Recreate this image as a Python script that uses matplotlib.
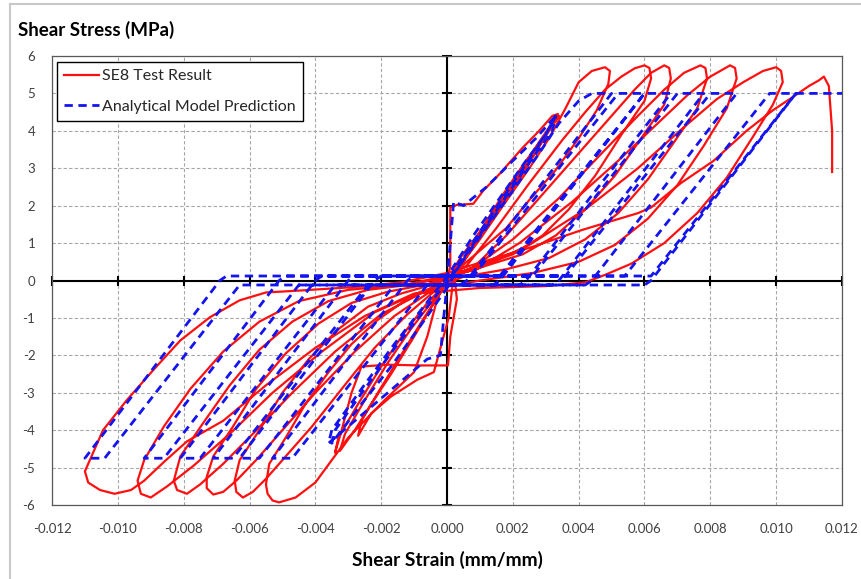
import numpy as np
import matplotlib
matplotlib.use('Agg')
import matplotlib.pyplot as plt
from matplotlib.lines import Line2D

plt.rcParams['font.family'] = ['Lato', 'DejaVu Sans']
plt.rcParams['axes.unicode_minus'] = False

# --- SE8 test result (red), branch by branch ---
# first small cycles around +/-0.0033
test_small_x = [0, 0.0001, 0.0001, 0.0003, 0.0008, 0.0011, 0.0016, 0.0023, 0.0028, 0.0032, 0.00337,
                0.0030, 0.0024, 0.0017, 0.0010, 0.0004, 0.0002, 0.0003, 0.0001, 0.00003, -0.0008, -0.0018, -0.0026, -0.0029, -0.0032, -0.0034,
                -0.0033, -0.0027, -0.0020, -0.0013, -0.0006, 0.0, 0.0005, 0.0010, 0.0017, 0.0024, 0.0030, 0.0034,
                0.0031, 0.0024, 0.0016, 0.0008, 0.0002, -0.0004, -0.0010, -0.0017, -0.0023, -0.0028, -0.00325,
                -0.0031, -0.0025, -0.0018, -0.0011, -0.0004, 0.0002, 0.0008, 0.0015, 0.0022, 0.0028, 0.0033,
                0.0030, 0.0023, 0.0015, 0.0007, 0.0002, 0.00005, -0.0004, -0.0009, -0.0017, -0.0023, -0.0027]
test_small_y = [0, 0.4, 1.95, 2.02, 2.05, 2.4, 2.85, 3.55, 4.0, 4.4, 4.45,
                3.9, 3.1, 2.2, 1.3, 0.6, 0.3, -0.5, -1.5, -2.27, -2.27, -2.25, -2.3, -3.0, -4.0, -4.6,
                -4.2, -3.3, -2.3, -1.4, -0.6, -0.05, 0.5, 1.3, 2.3, 3.2, 3.9, 4.4,
                4.0, 3.0, 1.9, 0.9, 0.25, -0.6, -1.5, -2.5, -3.3, -4.0, -4.55,
                -4.1, -3.2, -2.2, -1.3, -0.5, 0.1, 0.9, 1.9, 2.9, 3.7, 4.35,
                3.9, 2.9, 1.8, 0.8, 0.1, -1.0, -2.45, -2.65, -3.1, -3.55, -4.15]

# large cycles
test_big_x = [-0.0026, -0.0021, -0.0014, -0.0007, -0.0001, 0.0004, 0.0010, 0.0017, 0.0025, 0.0031, 0.0036, 0.0040, 0.0044, 0.0048,
              0.00495, 0.0049, 0.00455, 0.0040, 0.0033, 0.0025, 0.0018, 0.0010, 0.0004, 0.0, -0.0003, -0.0006, -0.0010, -0.0019, -0.0030, -0.0035, -0.0040, -0.0046, -0.0051, -0.0053, -0.00545, -0.0055,
              -0.0054, -0.0049, -0.0043, -0.0036, -0.0029, -0.0021, -0.0013, -0.0005, 0.0006, 0.0015, 0.0025, 0.0035, 0.0042, 0.0048, 0.0053, 0.0057, 0.0060,
              0.00615, 0.0062, 0.0060, 0.0053, 0.0045, 0.0037, 0.0029, 0.0020, 0.0010, 0.0003, -0.0004, -0.0012, -0.0022, -0.0032, -0.0041, -0.0049, -0.0055, -0.0059, -0.0062, -0.0064, -0.00645,
              -0.0063, -0.0057, -0.0050, -0.0042, -0.0033, -0.0024, -0.0014, -0.0004, 0.0008, 0.0018, 0.0030, 0.0042, 0.0051, 0.0057, 0.0062, 0.0066,
              0.00675, 0.0068, 0.0066, 0.0059, 0.0051, 0.0042, 0.0033, 0.0023, 0.0012, 0.0003, -0.0006, -0.0016, -0.0028, -0.0040, -0.0050, -0.0058, -0.0064, -0.0068, -0.0071, -0.0073, -0.0073,
              -0.0071, -0.0065, -0.0058, -0.0049, -0.0039, -0.0029, -0.0018, -0.0006, 0.0008, 0.0020, 0.0034, 0.0047, 0.0058, 0.0066, 0.0072, 0.0077,
              0.00785, 0.0079, 0.0076, 0.0069, 0.0061, 0.0052, 0.0042, 0.0031, 0.0018, 0.0005, -0.0008, -0.0020, -0.0034, -0.0047, -0.0059, -0.0068, -0.0075, -0.0079, -0.0082, -0.0083,
              -0.0081, -0.0074, -0.0066, -0.0057, -0.0047, -0.0036, -0.0024, -0.0010, 0.0009, 0.0022, 0.0038, 0.0052, 0.0064, 0.0073, 0.0080, 0.0086,
              0.00875, 0.0088, 0.0085, 0.0078, 0.0070, 0.0061, 0.0051, 0.0040, 0.0026, 0.0010, -0.0008, -0.0022, -0.0038, -0.0053, -0.0066, -0.0077, -0.0085, -0.0090, -0.0093, -0.0094,
              -0.0092, -0.0086, -0.0078, -0.0068, -0.0057, -0.0045, -0.0030, -0.0012, 0.0009, 0.0025, 0.0042, 0.0058, 0.0072, 0.0082, 0.0090, 0.0096, 0.0100,
              0.01015, 0.0102, 0.0099, 0.0093, 0.0085, 0.0076, 0.0066, 0.0056, 0.0048, 0.0042, 0.0030, 0.0010, -0.0010, -0.0025, -0.0040, -0.0055, -0.0068, -0.0079, -0.0086, -0.0092, -0.0096, -0.0101, -0.01054, -0.0109, -0.0110]
test_big_y = [-3.75, -3.0, -2.0, -1.0, -0.2, 0.4, 1.1, 2.0, 3.0, 3.8, 4.6, 5.3, 5.6, 5.7,
              5.6, 5.25, 4.55, 3.8, 2.95, 2.15, 1.4, 0.8, 0.35, 0.05, -0.5, -1.5, -2.45, -3.2, -4.2, -4.8, -5.4, -5.8, -5.93, -5.88, -5.7, -5.45,
              -4.9, -4.2, -3.3, -2.45, -1.7, -1.05, -0.55, -0.2, 0.4, 1.4, 2.6, 3.75, 4.5, 5.1, 5.45, 5.67, 5.75,
              5.68, 5.4, 4.8, 3.9, 2.8, 1.9, 1.2, 0.7, 0.4, 0.2, -0.3, -0.9, -1.8, -2.9, -3.9, -4.7, -5.3, -5.65, -5.8, -5.65, -5.35,
              -4.8, -4.0, -3.0, -2.1, -1.3, -0.7, -0.35, -0.1, 0.35, 1.2, 2.4, 3.6, 4.5, 5.1, 5.55, 5.75,
              5.68, 5.4, 4.7, 3.8, 2.8, 1.9, 1.2, 0.7, 0.4, 0.15, -0.35, -0.95, -1.9, -3.0, -4.0, -4.8, -5.35, -5.65, -5.72, -5.55, -5.25,
              -4.7, -3.9, -2.9, -1.95, -1.15, -0.6, -0.3, -0.1, 0.35, 1.1, 2.2, 3.4, 4.4, 5.1, 5.55, 5.75,
              5.68, 5.4, 4.6, 3.7, 2.7, 1.8, 1.1, 0.6, 0.3, 0.1, -0.35, -0.9, -1.9, -3.0, -4.1, -4.9, -5.45, -5.7, -5.6, -5.35,
              -4.7, -3.8, -2.8, -1.85, -1.1, -0.55, -0.25, -0.1, 0.3, 1.0, 2.1, 3.2, 4.2, 4.95, 5.45, 5.75,
              5.68, 5.4, 4.6, 3.6, 2.55, 1.65, 0.95, 0.5, 0.2, 0.0, -0.3, -0.85, -1.9, -3.0, -4.1, -4.95, -5.5, -5.8, -5.7, -5.35,
              -4.8, -3.9, -2.9, -1.9, -1.1, -0.55, -0.25, -0.1, 0.3, 0.95, 1.9, 3.0, 4.1, 4.85, 5.3, 5.6, 5.7,
              5.6, 5.3, 4.7, 3.85, 2.75, 1.8, 1.0, 0.45, 0.15, -0.05, -0.15, -0.2, -0.35, -0.95, -1.8, -2.8, -3.75, -4.3, -4.85, -5.35, -5.6, -5.7, -5.6, -5.4, -5.1]

# last unloading and final push to failure
test_final_x = [-0.01045, -0.00973, -0.00893, -0.0081, -0.0072, -0.0063, -0.0055, -0.0045, -0.0029, -0.0014, 0.0,
                0.0009, 0.0026, 0.0041, 0.0058, 0.0062, 0.0071, 0.0081, 0.0091, 0.0099, 0.0105, 0.0110, 0.0113, 0.01145, 0.0116, 0.0117, 0.0117]
test_final_y = [-4.0, -3.2, -2.4, -1.6, -0.98, -0.53, -0.32, -0.27, -0.18, -0.05, 0.2,
                0.45, 0.9, 1.35, 1.8, 1.95, 2.6, 3.2, 4.0, 4.55, 4.9, 5.2, 5.35, 5.45, 5.2, 4.0, 2.9]

# --- analytical model prediction (blue dashed) ---
model_small_x = [0, 0.0001, 0.0002, 0.0005, 0.0012, 0.0020, 0.0027, 0.0033,
                 0.0030, 0.0020, 0.0010, 0.0003, 0.0, -0.0001, -0.0002, -0.0006, -0.0014, -0.0022, -0.0030, -0.0036,
                 -0.0035, -0.0026, -0.0016, -0.0008, 0.0, 0.0008, 0.0016, 0.0024, 0.0030, 0.0033,
                 0.0032, 0.0023, 0.0013, 0.0005, 0.0, -0.0008, -0.0017, -0.0026, -0.0032, -0.0035,
                 -0.0034, -0.0025, -0.0015, -0.0006, 0.0003, 0.0011, 0.0020, 0.0028, 0.0034, 0.0040, 0.0044, 0.0050]
model_small_y = [0, 1.0, 2.1, 2.0, 2.5, 3.2, 3.8, 4.4,
                 3.9, 2.6, 1.3, 0.4, -0.1, -1.0, -2.0, -2.1, -2.7, -3.3, -3.9, -4.35,
                 -4.0, -2.9, -1.7, -0.8, 0.1, 1.2, 2.2, 3.2, 3.9, 4.4,
                 4.0, 2.9, 1.6, 0.6, -0.2, -1.2, -2.3, -3.3, -4.0, -4.35,
                 -4.0, -2.9, -1.7, -0.7, 0.3, 1.3, 2.4, 3.4, 4.2, 4.8, 5.0, 5.0]

model_big_x = [0.0006, 0.0004, -0.0006, -0.0047, -0.0053, -0.0012, -0.0010, 0.0008, 0.0052, 0.0060,
               0.0016, 0.0014, -0.0016, -0.0057, -0.0063, -0.0022, -0.0020, 0.0016, 0.0060, 0.0068,
               0.0024, 0.0022, -0.0024, -0.0065, -0.0071, -0.0030, -0.0028, 0.0026, 0.0070, 0.0078,
               0.0034, 0.0032, -0.0034, -0.0075, -0.0081, -0.0040, -0.0038, 0.0036, 0.0080, 0.0088,
               0.0044, 0.0042, -0.0045, -0.0086, -0.0092, -0.0051, -0.0049, 0.0054, 0.0098, 0.0106,
               0.0062, 0.0060, -0.0063, -0.0104, -0.0110, -0.0069, -0.0067, 0.0062, 0.0106, 0.0120]
model_big_y = [0.0, -0.12, -0.12, -4.75, -4.75, 0.0, 0.12, 0.12, 5.0, 5.0,
               0.0, -0.12, -0.12, -4.75, -4.75, 0.0, 0.12, 0.12, 5.0, 5.0,
               0.0, -0.12, -0.12, -4.75, -4.75, 0.0, 0.12, 0.12, 5.0, 5.0,
               0.0, -0.12, -0.12, -4.75, -4.75, 0.0, 0.12, 0.12, 5.0, 5.0,
               0.0, -0.12, -0.12, -4.75, -4.75, 0.0, 0.12, 0.12, 5.0, 5.0,
               0.0, -0.12, -0.12, -4.75, -4.75, 0.0, 0.12, 0.12, 5.0, 5.0]

strain_ticks = [-0.012, -0.010, -0.008, -0.006, -0.004, -0.002, 0.0, 0.002, 0.004, 0.006, 0.008, 0.010, 0.012]
stress_ticks = [-6, -5, -4, -3, -2, -1, 0, 1, 2, 3, 4, 5, 6]

test_x = test_small_x + test_big_x + test_final_x
test_y = test_small_y + test_big_y + test_final_y
model_x = model_small_x + model_big_x
model_y = model_small_y + model_big_y

fig = plt.figure(figsize=(8.62, 5.79), dpi=100)
ax = fig.add_axes([52/862, 1-505/579, 790/862, 449/579])

ax.plot(test_x, test_y, color='#ff1010', lw=1.6, zorder=3, label='SE8 Test Result')
ax.plot(model_x, model_y, color='#1414f0', lw=2.0, dashes=(3, 2), zorder=4,
        label='Analytical Model Prediction')

ax.set_xlim(-0.012, 0.012)
ax.set_ylim(-6, 6)
ax.set_xticks(strain_ticks)
ax.set_xticklabels(['%.3f' % t for t in strain_ticks])
ax.set_yticks(stress_ticks)
ax.tick_params(length=0, labelsize=9.5, labelcolor='#404040')
ax.tick_params(axis='x', pad=13)
ax.tick_params(axis='y', pad=12)
ax.grid(True, color='#a6a6a6', linestyle=(0, (3, 2)), linewidth=0.8, zorder=0)
ax.set_axisbelow(True)
for s in ax.spines.values():
    s.set_color('#595959')
    s.set_linewidth(0.9)

# axes through the origin with their own tick marks
ax.axhline(0, color='black', lw=1.5, zorder=2)
ax.axvline(0, color='black', lw=1.5, zorder=2)
ax.plot(strain_ticks, [0]*len(strain_ticks), ls='none', marker='|', ms=7.5, mew=1.5,
        color='black', clip_on=False, zorder=2)
ax.plot([0]*len(stress_ticks), stress_ticks, ls='none', marker='_', ms=7.5, mew=1.5,
        color='black', clip_on=False, zorder=2)

leg = ax.legend(loc='upper left', bbox_to_anchor=(0.0063, 0.9866), borderaxespad=0,
                fontsize=11.5, handlelength=2.2, handletextpad=0.2, labelspacing=1.0,
                borderpad=0.45, fancybox=False, framealpha=1, edgecolor='black')
leg.get_frame().set_linewidth(1.0)
for t in leg.get_texts():
    t.set_color('#262626')

fig.text(18/862, 1-30/579, 'Shear Stress (MPa)', fontsize=13.5, fontweight='bold',
         ha='left', va='center', color='black')
fig.text(447/862, 1-560/579, 'Shear Strain (mm/mm)', fontsize=13.8, fontweight='bold',
         ha='center', va='center', color='black')

# light outer frame of the chart area
fig.add_artist(Line2D([10/862, 1], [1-4/579, 1-4/579], transform=fig.transFigure,
                      color='#c8c8c8', lw=1.5))
fig.add_artist(Line2D([10/862, 10/862], [0, 1-4/579], transform=fig.transFigure,
                      color='#c8c8c8', lw=1.5))

fig.savefig('out.png', dpi=100)
